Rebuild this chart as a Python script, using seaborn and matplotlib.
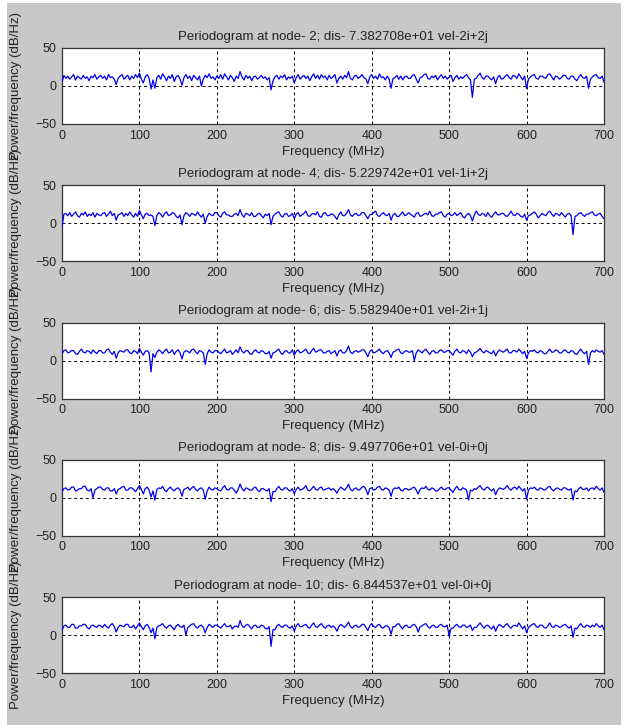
import numpy as np
import pandas as pd
import seaborn as sns
import matplotlib
matplotlib.use("Agg")
import matplotlib.pyplot as plt
from matplotlib.patches import Rectangle

# ---------------- data (2.5 MHz spacing, 0..700 MHz) ----------------
titles = [
    "Periodogram at node- 2; dis- 7.382708e+01 vel-2i+2j",
    "Periodogram at node- 4; dis- 5.229742e+01 vel-1i+2j",
    "Periodogram at node- 6; dis- 5.582940e+01 vel-2i+1j",
    "Periodogram at node- 8; dis- 9.497706e+01 vel-0i+0j",
    "Periodogram at node- 10; dis- 6.844537e+01 vel-0i+0j",
]
x_ticks = [0, 100, 200, 300, 400, 500, 600, 700]
y_ticks = [-50, 0, 50]
f_max = 700

psd_node2 = [
    5, 14, 10, 13, 9, 12, 15, 8, 13, 11, 9, 14, 10, 12, 7, 13, 11, 15, 9, 12,
    14, 10, 13, 8, 15, 11, 12, 9, 2, 10, 13, 15, 9, 12, 14, 8, 13, 10, 15, 11,
    17, 9, 4, 12, 15, 10, -4, 8, -3, 11, 14, 9, 16, 12, 7, 13, 10, 15, 6, 12,
    14, 9, 1, 11, 15, 10, 13, 7, 14, 11, 8, 13, 0, 9, 14, 11, 16, 10, 12, 8,
    13, 10, 15, 9, 16, 12, 8, 14, 11, 6, 13, 10, 19, 12, 8, 14, 10, 13, 7, 12,
    13, 9, 11, 14, 10, 12, 8, 11, -5, 7, 12, 14, 9, 13, 11, 15, 8, 12, 10, 13,
    4, 11, 15, 9, 12, 14, 10, 13, 7, 12, 16, 10, 14, 9, 15, 11, 13, 8, 14, 10,
    12, 15, 4, 10, 13, 9, 14, 11, 19, 10, 8, 13, 14, 10, 12, 15, 11, 9, 3, 12,
    15, 10, 13, 9, 16, 11, 12, 8, 13, 9, -3, 10, 11, 14, 9, 13, 8, 12, 13, 10,
    10, 14, 15, 9, 4, 11, 12, 15, 16, 10, 9, 13, 11, 14, 8, 12, 15, 10, 13, 9,
    12, 14, 6, 11, 14, 9, 12, 10, 13, 15, 11, 8, -15, 9, 10, 14, 17, 11, 9, 13,
    13, 10, 8, 12, 3, 11, 14, 9, 10, 13, 15, 11, 9, 14, 13, 10, 16, 12, 8, 13,
    -3, 9, 12, 14, 15, 10, 9, 13, 13, 11, 10, 15, 16, 12, 8, 13, 12, 9, 11, 14,
    14, 10, 9, 13, 13, 9, 7, 12, 15, 11, 10, 13, -3, 9, 12, 14, 15, 11, 10, 13,
    5,
]
psd_node4 = [
    -5, 12, 13, 10, 14, 9, 12, 15, 10, 8, 13, 11, 15, 9, 12, 10, 14, 8, 13, 11,
    10, 13, 14, 9, 12, 16, 10, 13, 4, 11, 12, 14, 9, 13, 10, 15, 11, 8, 13, 9,
    17, 11, 6, 12, 13, 10, 11, 9, -3, 10, 14, 12, 8, 13, 15, 10, 11, 14, 13, 9,
    7, 11, -2, 10, 14, 12, 9, 13, 12, 10, 15, 11, 8, 12, 0, 9, 13, 11, 10, 14,
    14, 10, 8, 13, 15, 11, 11, 9, 9, 12, 13, 10, 18, 11, 8, 13, 12, 10, 14, 9,
    9, 12, 13, 10, 7, 12, 10, 13, -2, 9, 12, 14, 15, 10, 8, 12, 13, 9, 10, 13,
    6, 12, 14, 9, 11, 13, 16, 10, 9, 12, 13, 11, 15, 9, 8, 13, 14, 10, 10, 12,
    12, 9, 5, 11, 15, 10, 10, 13, 18, 11, 9, 12, 13, 10, 11, 14, 14, 10, 6, 11,
    12, 14, 16, 10, 9, 12, 14, 11, 10, 13, 4, 11, 13, 9, 9, 12, 15, 10, 11, 14,
    12, 10, 8, 13, 14, 9, 10, 12, 13, 11, 16, 10, 9, 12, 12, 14, 15, 10, 8, 12,
    13, 10, 11, 14, 10, 12, 14, 9, 7, 11, 13, 10, 3, 11, 16, 12, 10, 13, 12, 9,
    14, 10, 8, 12, 15, 11, 11, 13, 13, 10, 9, 12, 16, 11, 10, 13, 12, 9, 8, 12,
    4, 10, 11, 13, 15, 12, 7, 10, 13, 11, 10, 14, 16, 12, 9, 13, 12, 10, 14, 11,
    8, 12, 13, 10, -15, 9, 10, 13, 14, 11, 9, 12, 12, 14, 15, 11, 10, 12, 13, 9,
    6,
]
psd_node6 = [
    9, 13, 14, 10, 11, 13, 13, 9, 8, 12, 15, 11, 10, 13, 12, 9, 14, 11, 9, 13,
    13, 10, 10, 14, 15, 11, 8, 12, 3, 10, 13, 12, 11, 14, 14, 10, 9, 13, 12, 9,
    16, 11, 7, 12, 13, 10, -15, 9, 4, 11, 14, 12, 9, 13, 15, 10, 11, 14, 8, 12,
    14, 10, 2, 11, 13, 12, 10, 14, 15, 11, 9, 13, 12, 10, -5, 9, 14, 11, 10, 13,
    13, 11, 9, 12, 15, 10, 11, 13, 8, 11, 14, 10, 18, 12, 10, 13, 13, 9, 8, 12,
    14, 11, 10, 13, 12, 9, 9, 12, 3, 10, 11, 13, 15, 10, 8, 12, 13, 10, 10, 14,
    7, 12, 14, 10, 11, 13, 15, 10, 9, 13, 16, 11, 12, 14, 14, 10, 10, 12, 13, 9,
    11, 13, 6, 12, 14, 10, 10, 13, 19, 11, 9, 12, 13, 11, 12, 14, 14, 10, 5, 12,
    14, 10, 11, 13, 15, 11, 9, 12, 13, 10, 4, 11, 12, 14, 15, 10, 9, 12, 13, 11,
    11, 13, 0, 10, 14, 12, 10, 13, 15, 11, 8, 12, 13, 10, 10, 13, 14, 11, 11, 13,
    13, 10, 7, 12, 15, 11, 10, 13, 12, 9, 14, 11, 5, 10, 11, 13, 16, 12, 10, 13,
    12, 10, 9, 13, 6, 11, 14, 12, 11, 13, 15, 10, 10, 13, 13, 11, 15, 12, 9, 12,
    3, 10, 13, 12, 14, 11, 10, 13, 12, 9, 9, 12, 15, 11, 11, 14, 13, 10, 10, 13,
    14, 11, 10, 13, 12, 9, 8, 12, 15, 11, 9, 12, -5, 10, 13, 11, 14, 12, 11, 13,
    8,
]
psd_node8 = [
    8, 12, 13, 10, 11, 14, 14, 9, 10, 12, 12, 15, 15, 10, 9, 12, 0, 10, 12, 14,
    14, 11, 10, 13, 13, 9, 9, 12, 5, 11, 12, 14, 15, 10, 10, 13, 13, 11, 8, 12,
    16, 11, 5, 12, 14, 10, 1, 9, -3, 11, 13, 12, 15, 10, 8, 12, 14, 11, 9, 12,
    13, 10, 2, 11, 12, 14, 10, 13, 15, 11, 9, 12, 13, 10, -2, 9, 14, 11, 10, 13,
    12, 10, 9, 13, 16, 11, 10, 13, 13, 10, 6, 11, 18, 12, 9, 13, 12, 10, 10, 13,
    14, 10, 8, 12, 12, 10, 9, 12, -5, 8, 8, 12, 15, 11, 10, 13, 13, 10, 9, 12,
    5, 11, 14, 10, 11, 13, 16, 10, 9, 12, 15, 11, 10, 13, 14, 10, 11, 12, 13, 10,
    12, 10, 6, 11, 14, 12, 10, 13, 18, 11, 9, 12, 13, 10, 11, 14, 15, 11, 4, 12,
    13, 10, 11, 14, 15, 11, 10, 13, 12, 10, 2, 11, 13, 12, 14, 10, 9, 12, 12, 10,
    11, 13, 14, 10, 5, 11, 13, 12, 15, 11, 10, 13, 12, 9, 9, 12, 14, 11, 11, 13,
    13, 10, 7, 12, 15, 11, 10, 13, 12, 10, -3, 10, 9, 12, 11, 14, 16, 12, 10, 13,
    14, 11, 9, 12, 4, 10, 13, 12, 11, 13, 16, 12, 10, 13, 14, 11, 15, 12, 9, 12,
    -2, 10, 13, 12, 14, 11, 10, 13, 12, 10, 11, 14, 15, 11, 9, 12, 13, 11, 10, 13,
    13, 11, 10, 12, -3, 9, 8, 12, 14, 11, 11, 13, 9, 12, 13, 11, 15, 12, 10, 13,
    7,
]
psd_node10 = [
    6, 12, 13, 10, 10, 14, 14, 9, 9, 12, 12, 14, 14, 10, 8, 12, 13, 11, 10, 13,
    12, 10, 14, 11, 9, 13, 15, 11, 4, 10, 13, 12, 11, 14, 14, 10, 10, 13, 8, 12,
    16, 11, 7, 12, 14, 10, 3, 9, -5, 10, 12, 13, 15, 11, 9, 12, 13, 10, 7, 12,
    14, 11, 10, 13, 0, 10, 12, 14, 15, 11, 9, 12, 13, 10, 3, 10, 14, 12, 10, 13,
    13, 11, 9, 12, 15, 11, 11, 13, 8, 11, 12, 10, 19, 12, 10, 13, 14, 11, 8, 12,
    13, 10, 10, 13, 12, 9, 8, 11, -15, 7, 7, 12, 14, 11, 10, 13, 13, 10, 9, 12,
    5, 12, 15, 11, 11, 13, 14, 10, 9, 13, 16, 11, 10, 13, 15, 11, 9, 12, 13, 10,
    12, 10, 5, 11, 14, 12, 10, 13, 17, 11, 9, 12, 13, 10, 11, 14, 14, 10, 6, 12,
    15, 11, 10, 13, 14, 10, 9, 12, 12, 10, 1, 11, 11, 14, 15, 11, 8, 12, 13, 10,
    10, 13, 14, 11, 4, 11, 12, 14, 15, 11, 9, 12, 13, 10, 10, 13, 14, 11, 11, 13,
    -2, 9, 9, 12, 14, 11, 10, 13, 13, 10, 11, 13, 6, 10, 10, 13, 16, 12, 9, 12,
    13, 10, 8, 12, 5, 11, 14, 12, 10, 13, 15, 11, 9, 12, 13, 11, 16, 12, 8, 12,
    3, 10, 12, 14, 15, 11, 10, 13, 13, 10, 9, 12, 16, 11, 10, 13, 12, 10, 11, 13,
    14, 11, 9, 12, -3, 9, 8, 12, 15, 11, 10, 13, 12, 10, 13, 11, 15, 12, 10, 13,
    7,
]
series = [psd_node2, psd_node4, psd_node6, psd_node8, psd_node10]

# ---------------- style ----------------
sns.set_style("white")
plt.rcParams["font.family"] = ["Liberation Sans", "DejaVu Sans"]
plt.rcParams["font.size"] = 9

W, H = 624, 725
fig = plt.figure(figsize=(W / 100, H / 100), dpi=100)
fig.patch.set_facecolor("white")
fig.add_artist(Rectangle((7 / W, 0), (621 - 7) / W, (H - 3) / H,
                         transform=fig.transFigure, facecolor="#c8c8c8",
                         edgecolor="none", zorder=-10))

left_px, right_px = 62, 604
height_px = 76
tops_px = [48 + 137.25 * k for k in range(5)]

for k, (vals, title) in enumerate(zip(series, titles)):
    top = tops_px[k]
    ax = fig.add_axes([left_px / W, 1 - (top + height_px) / H,
                       (right_px - left_px) / W, height_px / H])
    ax.set_facecolor("white")
    freq = np.linspace(0, f_max, len(vals))
    df = pd.DataFrame({"freq": freq, "psd": vals})
    sns.lineplot(data=df, x="freq", y="psd", ax=ax, color="#0000ee",
                 linewidth=0.9, zorder=3)
    ax.set_xlim(0, 700)
    ax.set_ylim(-50, 50)
    ax.set_xticks(x_ticks)
    ax.set_yticks(y_ticks)
    ax.grid(True, color="black", linestyle=(0, (3, 3)), linewidth=0.7, zorder=1)
    ax.tick_params(direction="in", length=3, width=0.8, color="#333333",
                   labelsize=9, labelcolor="#222222", pad=4)
    for s in ax.spines.values():
        s.set_color("#333333")
        s.set_linewidth(0.9)
    ax.set_title(title, fontsize=9.5, color="#222222", pad=6)
    ax.set_xlabel("Frequency (MHz)", fontsize=9.5, color="#222222", labelpad=3)
    ax.set_ylabel("Power/frequency (dB/Hz)", fontsize=9.5, color="#222222")
    ax.yaxis.set_label_coords(-0.074, 0.5)

fig.savefig("out.png", dpi=100)
